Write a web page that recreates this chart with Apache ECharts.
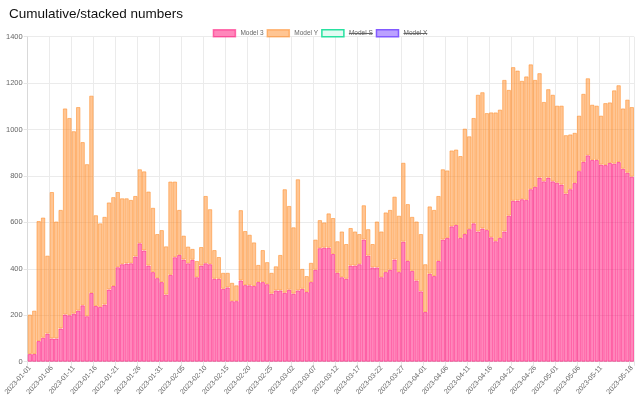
<!DOCTYPE html>
<html>
<head>
<meta charset="utf-8">
<script src="https://cdn.jsdelivr.net/npm/echarts@6/dist/echarts.min.js"></script>
<style>html,body{margin:0;padding:0;background:#fff}#c{width:640px;height:400px}</style>
</head>
<body>
<div id="c"></div>
<script>
// ---- data ----
const startDate = '2023-01-01';
const dayCount = 138;
const categories = [];
(function(){
  const d = new Date(startDate + 'T00:00:00Z');
  for (let i = 0; i < dayCount; i++) {
    const x = new Date(d.getTime() + i * 86400000);
    categories.push(x.toISOString().slice(0, 10));
  }
})();

const model3 = [33,33,89,103,121,100,100,143,203,200,207,220,243,196,296,240,236,246,311,326,
407,420,423,424,453,510,479,414,386,360,343,289,374,450,460,440,424,439,364,414,
424,420,357,357,314,320,261,261,350,330,329,326,343,343,334,293,307,307,297,310,
293,307,314,300,343,396,489,491,491,464,383,364,357,414,414,420,526,457,406,406,
364,386,396,440,386,517,434,391,349,303,214,379,369,434,526,533,583,589,533,550,
571,596,561,574,567,536,519,533,561,629,693,694,700,697,743,753,793,777,793,777,
771,763,724,743,770,821,861,889,869,869,849,847,856,853,860,831,814,797];

const modelY = [170,187,517,518,336,631,504,511,888,850,786,877,703,655,850,391,360,378,375,383,
324,284,281,273,261,319,341,319,277,190,224,208,402,326,194,103,72,47,70,80,
290,237,124,94,69,63,79,68,303,233,218,188,74,138,95,90,104,153,446,361,
286,479,86,69,83,130,121,109,148,155,136,197,150,162,147,130,148,114,101,198,
197,257,258,271,243,340,245,233,255,247,206,290,285,280,303,291,327,325,353,454,
400,454,589,587,504,538,555,553,653,542,576,560,510,532,538,461,450,342,381,373,
332,340,252,236,216,239,293,332,238,234,211,267,261,316,331,260,315,300];

const modelS = [];
const modelX = [];

const yTicks = { min: 0, max: 1400, interval: 200 };
const hiddenSeries = ['Model S', 'Model X'];

// ---- chart ----
const FONT = '"Liberation Sans", Arial, Helvetica, sans-serif';
const lastIdx = categories.length - 1;
const showTick = (i) => (i % 5 === 0 && i <= lastIdx - 5) || i === lastIdx;

const chart = echarts.init(document.getElementById('c'), null, { renderer: 'canvas' });

function barSeries(name, data, fill, border) {
  return {
    name, type: 'bar', stack: 'total', data,
    barCategoryGap: '0%', barGap: '0%',
    itemStyle: { color: fill, borderColor: border, borderWidth: 1 },
    emphasis: { disabled: true }
  };
}

const option = {
  animation: false,
  textStyle: { fontFamily: FONT },
  title: {
    text: 'Cumulative/stacked numbers',
    left: 4, top: 2,
    textStyle: { fontFamily: FONT, fontSize: 13.5, fontWeight: 'normal', color: '#111' }
  },
  legend: {
    top: 24, left: 'center',
    itemWidth: 22, itemHeight: 7, itemGap: 3,
    textStyle: { fontFamily: FONT, fontSize: 6.5, color: '#666' },
    icon: 'rect',
    itemStyle: { borderWidth: 1.5 },
    data: ['Model 3', 'Model Y', 'Model S', 'Model X']
  },
  grid: { left: 27.7, right: 6, top: 36.7, bottom: 38.3, containLabel: false },
  xAxis: {
    type: 'category',
    data: categories,
    boundaryGap: true,
    axisLine: { lineStyle: { color: '#d9d9d9', width: 1 } },
    axisTick: { show: true, length: 4, interval: (i) => showTick(i), lineStyle: { color: '#e5e5e5' } },
    axisLabel: {
      interval: (i) => showTick(i),
      rotate: 48, fontSize: 7, color: '#666', fontFamily: FONT, margin: 5
    },
    splitLine: { show: true, interval: (i) => showTick(i), lineStyle: { color: '#ebebeb', width: 1 } }
  },
  yAxis: {
    type: 'value',
    min: yTicks.min, max: yTicks.max, interval: yTicks.interval,
    axisLine: { show: true, lineStyle: { color: '#d9d9d9' } },
    axisTick: { show: true, length: 4, lineStyle: { color: '#e5e5e5' } },
    axisLabel: { fontSize: 7.5, color: '#666', fontFamily: FONT, margin: 5, formatter: (v) => String(v) },
    splitLine: { lineStyle: { color: '#ebebeb' } }
  },
  series: [
    barSeries('Model 3', model3, 'rgba(255, 16, 120, 0.5)', 'rgba(255, 16, 120, 0.55)'),
    barSeries('Model Y', modelY, 'rgba(255, 140, 40, 0.5)', 'rgba(255, 140, 40, 0.55)'),
    barSeries('Model S', modelS, 'rgba(60, 230, 170, 0.15)', 'rgba(40, 225, 160, 1)'),
    barSeries('Model X', modelX, 'rgba(150, 110, 255, 0.65)', 'rgba(130, 90, 255, 1)')
  ]
};
chart.setOption(option);

// strike-through for hidden legend items (as in the reference)
function addStrikes() {
  const zr = chart.getZr();
  const list = zr.storage.getDisplayList(true);
  const lines = [];
  list.forEach(el => {
    const t = el.style && el.style.text;
    if (hiddenSeries.indexOf(t) >= 0) {
      const r = el.getBoundingRect().clone();
      const m = el.getComputedTransform ? el.getComputedTransform() : el.transform;
      if (m) r.applyTransform(m);
      const y = Math.round(r.y + r.height / 2) + 0.5;
      lines.push({
        type: 'line', silent: true, z: 100,
        shape: { x1: r.x, y1: y, x2: r.x + r.width, y2: y },
        style: { stroke: '#666', lineWidth: 1 }
      });
    }
  });
  chart.setOption({ graphic: lines });
}
addStrikes();
</script>
</body>
</html>
